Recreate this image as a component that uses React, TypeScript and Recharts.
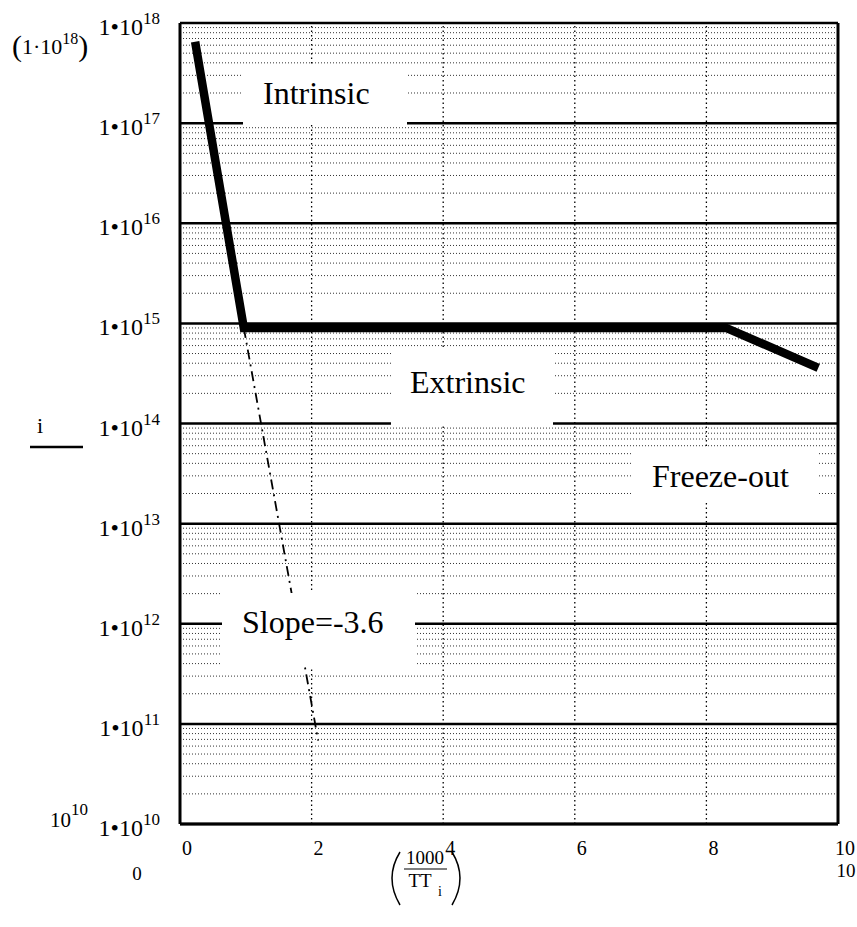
import React from "react";
import { LineChart, Line, XAxis, YAxis, ReferenceLine } from "recharts";

// carrier concentration vs 1000/T
const mainCurve = [
  { x: 0.23, n: 6.5e17 },
  { x: 0.97, n: 9e14 },
  { x: 8.3, n: 9e14 },
  { x: 9.7, n: 3.6e14 },
];

const slopeLine = [
  { x: 0.97, n: 9e14 },
  { x: 2.1, n: 6.8e10 },
];

const decadeTicks = [1e10, 1e11, 1e12, 1e13, 1e14, 1e15, 1e16, 1e17, 1e18];
const minorSteps = [2, 3, 4, 5, 6, 7, 8, 9];
const xTicks = [0, 2, 4, 6, 8, 10];
const xGridLines = [2, 4, 6, 8];

const regionLabels = [
  { text: "Intrinsic", box: [243, 64, 164, 61], at: [263, 104] },
  { text: "Extrinsic", box: [391, 349, 162, 76], at: [410, 393] },
  { text: "Freeze-out", box: [633, 448, 185, 52], at: [652, 487] },
  { text: "Slope=-3.6", box: [222, 593, 193, 74], at: [242, 633] },
];

const FONT = "Liberation Serif";
const W = 857;
const H = 927;

const minorValues = decadeTicks
  .slice(0, -1)
  .flatMap((d) => minorSteps.map((m) => d * m));

function DecadeTick(props: any) {
  const { x, y, payload } = props;
  const exp = Math.round(Math.log10(payload.value));
  return (
    <text x={x} y={y + 12} textAnchor="end" style={{ fontFamily: FONT }} fontSize={24} fill="#000">
      1•10
      <tspan dy={-11} fontSize={17}>
        {exp}
      </tspan>
    </text>
  );
}

function XTick(props: any) {
  const { x, y, payload } = props;
  return (
    <text x={x + 7} y={y} textAnchor="middle" style={{ fontFamily: FONT }} fontSize={20} fill="#000">
      {payload.value}
    </text>
  );
}

export default function App() {
  return (
    <div style={{ position: "absolute", left: 0, top: 0, width: W, height: H, background: "#fff" }}>
      <LineChart width={W} height={H} margin={{ top: 23, right: 19, bottom: 73, left: 0 }}>
        <XAxis
          type="number"
          dataKey="x"
          domain={[0, 10]}
          ticks={xTicks}
          allowDataOverflow
          height={30}
          tickLine={false}
          tickSize={0}
          tickMargin={31}
          tick={<XTick />}
          axisLine={{ stroke: "#000", strokeWidth: 3 }}
        />
        <YAxis
          type="number"
          scale="log"
          domain={[1e10, 1e18]}
          ticks={decadeTicks}
          allowDataOverflow
          width={180}
          tickLine={false}
          tickSize={0}
          tickMargin={20}
          tick={<DecadeTick />}
          axisLine={{ stroke: "#000", strokeWidth: 3 }}
        />
        {minorValues.map((v) => (
          <ReferenceLine key={`m${v}`} y={v} stroke="#000" strokeOpacity={0.8} strokeWidth={1} strokeDasharray="1 2" />
        ))}
        {xGridLines.map((v) => (
          <ReferenceLine key={`x${v}`} x={v} stroke="#000" strokeWidth={1.3} strokeDasharray="1.5 3" />
        ))}
        {decadeTicks.map((v) => (
          <ReferenceLine key={`d${v}`} y={v} stroke="#000" strokeWidth={2.5} />
        ))}
        <ReferenceLine x={10} stroke="#000" strokeWidth={3} />
        <Line
          data={slopeLine}
          dataKey="n"
          stroke="#000"
          strokeWidth={1.8}
          strokeDasharray="10 5 2 5"
          dot={false}
          isAnimationActive={false}
        />
        <Line
          data={mainCurve}
          dataKey="n"
          stroke="#000"
          strokeWidth={8.5}
          strokeLinejoin="miter"
          dot={false}
          isAnimationActive={false}
        />
      </LineChart>

      <svg
        width={W}
        height={H}
        style={{ position: "absolute", left: 0, top: 0, pointerEvents: "none", fontFamily: FONT }}
      >
        {regionLabels.map((r) => (
          <g key={r.text}>
            <rect x={r.box[0]} y={r.box[1]} width={r.box[2]} height={r.box[3]} fill="#fff" />
            <text x={r.at[0]} y={r.at[1]} fontSize={32} fill="#000">
              {r.text}
            </text>
          </g>
        ))}

        {/* y-axis limits and expression, Mathcad style */}
        <text x={12} y={56} fontSize={22} fill="#000">
          <tspan fontSize={30}>(</tspan>
          <tspan dy={-2}>1·10</tspan>
          <tspan dy={-10} fontSize={16}>
            18
          </tspan>
          <tspan dy={12} fontSize={30}>
            )
          </tspan>
        </text>
        <text x={37} y={433} fontSize={22} fill="#000">
          i
        </text>
        <line x1={30} y1={447} x2={83} y2={447} stroke="#000" strokeWidth={2.5} />
        <text x={50} y={827} fontSize={21} fill="#000">
          10
          <tspan dy={-12} fontSize={17}>
            10
          </tspan>
        </text>

        {/* x-axis limits and expression */}
        <text x={137} y={880} fontSize={19} fill="#000" textAnchor="middle">
          0
        </text>
        <text x={846} y={877} fontSize={19} fill="#000" textAnchor="middle">
          10
        </text>
        <path d="M 400 852 Q 384 878 400 905" fill="none" stroke="#000" strokeWidth={1.5} />
        <path d="M 452 852 Q 468 878 452 905" fill="none" stroke="#000" strokeWidth={1.5} />
        <text x={425} y={864} fontSize={19} fill="#000" textAnchor="middle">
          1000
        </text>
        <line x1={404} y1={869} x2={447} y2={869} stroke="#000" strokeWidth={1.2} />
        <text x={420} y={887} fontSize={19} fill="#000" textAnchor="middle">
          TT
        </text>
        <text x={438} y={896} fontSize={14} fill="#000">
          i
        </text>
      </svg>
    </div>
  );
}
